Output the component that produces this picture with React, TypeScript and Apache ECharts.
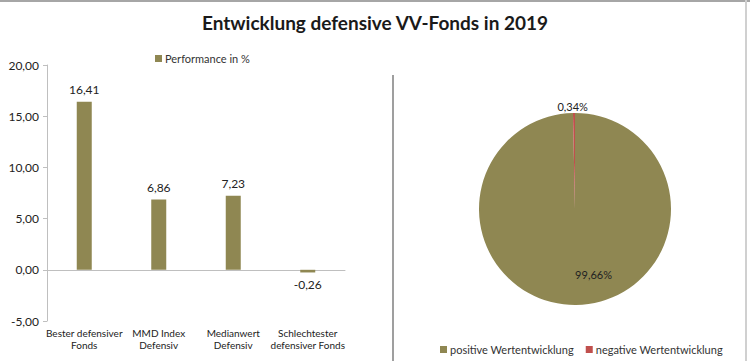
import React, { useEffect, useRef } from "react";
import * as echarts from "echarts";

const titleText = "Entwicklung defensive VV-Fonds in 2019";
const barSeriesName = "Performance in %";
const categories = [
  "Bester defensiver\nFonds",
  "MMD Index\nDefensiv",
  "Medianwert\nDefensiv",
  "Schlechtester\ndefensiver Fonds",
];
const performance = [16.41, 6.86, 7.23, -0.26];
const yMin = -5;
const yMax = 20;
const yInterval = 5;

const pieNames = ["positive Wertentwicklung", "negative Wertentwicklung"];
const pieValues = [99.66, 0.34];

const OLIVE = "#8F8752";
const RED = "#C0504D";
const FONT = "Lato";

const fmt = (v: number) => v.toFixed(2).replace(".", ",");

export default function App() {
  const ref = useRef<HTMLDivElement>(null);
  useEffect(() => {
    if (!ref.current) return;
    const chart = echarts.init(ref.current, undefined, { renderer: "svg" });
    chart.setOption({
      animation: false,
      backgroundColor: "#fff",
      textStyle: { fontFamily: FONT },
      title: {
        text: titleText,
        left: "center",
        top: 8,
        textStyle: { fontFamily: FONT, fontSize: 19, fontWeight: "bold", color: "#1a1a1a" },
      },
      legend: [
        {
          data: [barSeriesName],
          left: 150,
          top: 48,
          itemWidth: 7,
          itemHeight: 7,
          itemGap: 4,
          icon: "rect",
          textStyle: { fontFamily: FONT, fontSize: 11, color: "#333", padding: [0, 0, 0, -2] },
        },
        {
          data: pieNames,
          left: 435,
          top: 339,
          itemWidth: 7,
          itemHeight: 7,
          itemGap: 12,
          icon: "rect",
          textStyle: { fontFamily: FONT, fontSize: 11, color: "#333", padding: [0, 0, 0, -2] },
        },
      ],
      grid: { left: 47, right: 405, top: 65, bottom: 40, containLabel: false },
      xAxis: [
        {
          type: "category",
          data: categories,
          position: "bottom",
          axisLine: { show: false, onZero: false },
          axisTick: { show: false },
          axisLabel: {
            fontFamily: FONT,
            fontSize: 10,
            color: "#222",
            lineHeight: 12,
            margin: 6,
            interval: 0,
          },
        },
        {
          type: "category",
          data: categories,
          position: "bottom",
          axisLine: { show: true, onZero: true, lineStyle: { color: "#BFBFBF", width: 1 } },
          axisTick: { show: false },
          axisLabel: { show: false },
        },
      ],
      yAxis: {
        type: "value",
        min: yMin,
        max: yMax,
        interval: yInterval,
        axisLine: { show: true, lineStyle: { color: "#BFBFBF", width: 1 } },
        axisTick: { show: true, length: 4, lineStyle: { color: "#BFBFBF" } },
        splitLine: { show: false },
        axisLabel: {
          fontFamily: FONT,
          fontSize: 12,
          color: "#222",
          margin: 8,
          formatter: (v: number) => fmt(v),
        },
      },
      series: [
        {
          name: barSeriesName,
          type: "bar",
          xAxisIndex: 0,
          barWidth: 15,
          itemStyle: { color: OLIVE },
          data: performance.map((v) => ({
            value: v,
            label: { position: v < 0 ? "bottom" : "top" },
          })),
          label: {
            show: true,
            fontFamily: FONT,
            fontSize: 12,
            color: "#222",
            distance: 6,
            formatter: (p: any) => fmt(p.value),
          },
        },
        {
          type: "pie",
          center: [575, 209],
          radius: [0, 96],
          startAngle: 90,
          clockwise: true,
          color: [OLIVE, RED],
          itemStyle: { borderWidth: 0 },
          emphasis: { disabled: true },
          data: pieNames.map((n, i) => ({
            name: n,
            value: pieValues[i],
            label:
              i === 0
                ? { position: "inside", offset: [18, 15] }
                : { position: "outside", offset: [19, -3] },
          })),
          labelLine: { show: false, length: 4, length2: 0 },
          label: {
            show: true,
            fontFamily: FONT,
            fontSize: 11,
            color: "#222",
            formatter: (p: any) => fmt(p.value) + "%",
          },
        },
      ],
      graphic: [
        {
          type: "line",
          shape: { x1: 0, y1: 1, x2: 750, y2: 1 },
          style: { stroke: "#A6A6A6", lineWidth: 2 },
        },
        {
          type: "line",
          shape: { x1: 746, y1: 0, x2: 746, y2: 361 },
          style: { stroke: "#D0D0D0", lineWidth: 2 },
        },
        {
          type: "line",
          shape: { x1: 393, y1: 75, x2: 393, y2: 361 },
          style: { stroke: "#7F7F7F", lineWidth: 1.5 },
        },
      ],
    });
    return () => chart.dispose();
  }, []);
  return (
    <div
      ref={ref}
      style={{ position: "fixed", left: 0, top: 0, width: 750, height: 361 }}
    />
  );
}
